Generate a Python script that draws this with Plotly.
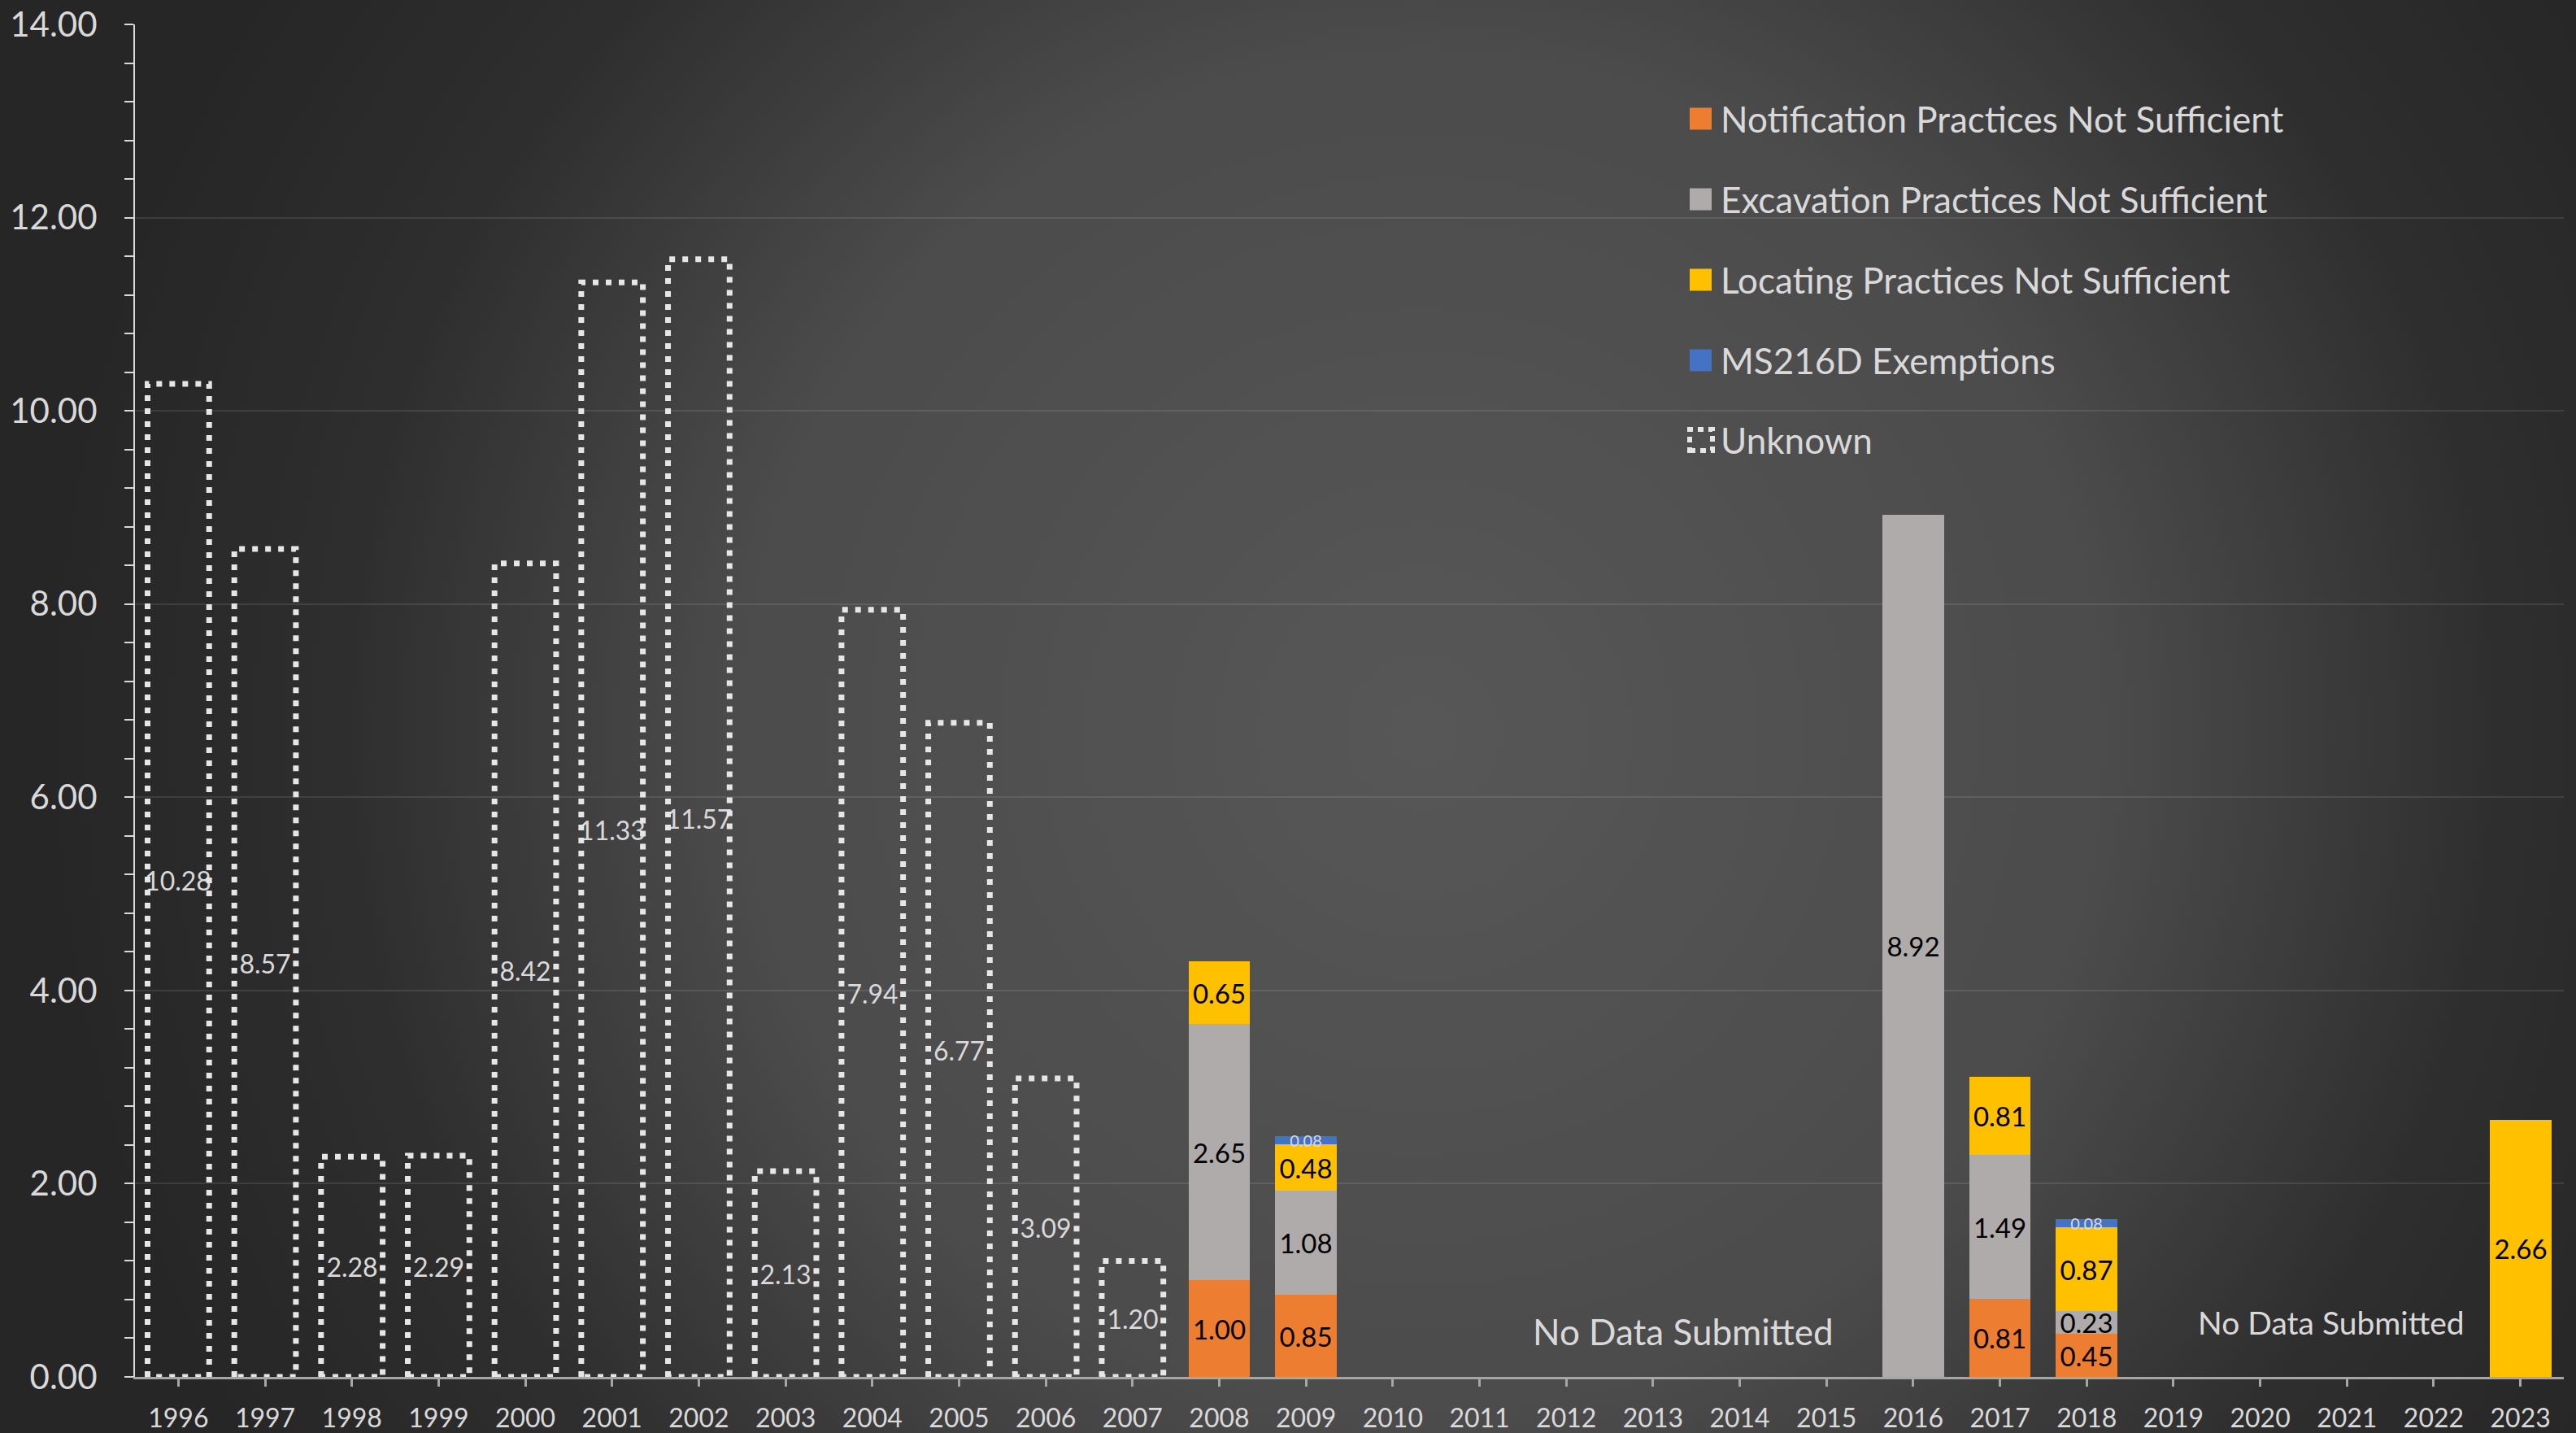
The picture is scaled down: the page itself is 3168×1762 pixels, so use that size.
import base64
import plotly.graph_objects as go

# ---------------- data ----------------
years = list(range(1996, 2024))
notification = [None]*12 + [1.00, 0.85] + [None]*6 + [None, 0.81, 0.45] + [None]*5
excavation   = [None]*12 + [2.65, 1.08] + [None]*6 + [8.92, 1.49, 0.23] + [None]*5
locating     = [None]*12 + [0.65, 0.48] + [None]*6 + [None, 0.81, 0.87] + [None]*4 + [2.66]
ms216d       = [None]*12 + [None, 0.08] + [None]*6 + [None, None, 0.08] + [None]*5
unknown      = [10.28, 8.57, 2.28, 2.29, 8.42, 11.33, 11.57, 2.13, 7.94, 6.77, 3.09, 1.20] + [None]*16
series_names = ["Notification Practices Not Sufficient", "Excavation Practices Not Sufficient",
                "Locating Practices Not Sufficient", "MS216D Exemptions", "Unknown"]
no_data_text = "No Data Submitted"

# ---------------- style ----------------
W, H = 3168, 1762
ML, MR, MT, MB = 166, 15, 30, 69
PW, PH = W - ML - MR, H - MT - MB
FONT = "Lato"
BAR_W = 0.71
colors = ["#ED7D31", "#AFABAB", "#FFC000", "#4472C4"]
LIGHT = "#d9d9d9"

fig = go.Figure()

stack = [notification, excavation, locating, ms216d]
for name, vals, col in zip(series_names[:4], stack, colors):
    is_blue = name.startswith("MS216D")
    fig.add_trace(go.Bar(
        x=years, y=vals, name=name, width=BAR_W,
        marker=dict(color=col, line=dict(width=0)),
        texttemplate="%{y:.2f}", textposition="inside", insidetextanchor="middle",
        constraintext="none", textangle=0,
        textfont=dict(family=FONT, size=20 if is_blue else 33, color=LIGHT if is_blue else "#000000"),
        showlegend=False, hoverinfo="skip"))

# Unknown: transparent bars carrying the labels
fig.add_trace(go.Bar(
    x=years, y=unknown, name=series_names[4], width=BAR_W,
    marker=dict(color="rgba(0,0,0,0)", line=dict(width=0)),
    texttemplate="%{y:.2f}", textposition="inside", insidetextanchor="middle",
    constraintext="none", textangle=0,
    textfont=dict(family=FONT, size=32, color=LIGHT),
    showlegend=False, hoverinfo="skip"))

# Unknown: dotted outlines built from the same values
ox, oy = [], []
for yr, v in zip(years, unknown):
    if v is None:
        continue
    a, b = yr - BAR_W/2, yr + BAR_W/2
    ox += [a, a, b, b, a, None]
    oy += [0, v, v, 0, 0, None]
fig.add_trace(go.Scatter(
    x=ox, y=oy, mode="lines", cliponaxis=False,
    line=dict(color="#e6e6e6", width=7, dash="7px,9px"),
    showlegend=False, hoverinfo="skip"))

# ---------------- background gradient ----------------
svg = (f"<svg xmlns='http://www.w3.org/2000/svg' width='{W}' height='{H}' viewBox='0 0 {W} {H}' "
       f"preserveAspectRatio='none'><defs><radialGradient id='g' gradientUnits='userSpaceOnUse' "
       f"cx='1750' cy='900' r='1700'><stop offset='0' stop-color='#575757'/>"
       f"<stop offset='0.5' stop-color='#4b4b4b'/><stop offset='0.78' stop-color='#2e2e2e'/>"
       f"<stop offset='1' stop-color='#262626'/></radialGradient></defs>"
       f"<rect width='{W}' height='{H}' fill='url(#g)'/></svg>")
src = "data:image/svg+xml;base64," + base64.b64encode(svg.encode()).decode()


def px(x):
    return (x - ML) / PW


def py(y):
    return (H - MB - y) / PH


images = [dict(source=src, xref="paper", yref="paper", x=px(0), y=py(0),
               sizex=W / PW, sizey=H / PH, xanchor="left", yanchor="top",
               sizing="stretch", layer="below")]

# ---------------- legend (manual) ----------------
shapes, annotations = [], []
row_y = [146, 245, 344, 443, 541]
for i, (name, yc) in enumerate(zip(series_names, row_y)):
    if i < 4:
        shapes.append(dict(type="rect", xref="paper", yref="paper",
                           x0=px(2078), x1=px(2105), y0=py(yc + 13.5), y1=py(yc - 13.5),
                           fillcolor=colors[i], line=dict(width=0)))
    else:
        shapes.append(dict(type="rect", xref="paper", yref="paper",
                           x0=px(2078), x1=px(2106), y0=py(yc + 13), y1=py(yc - 13),
                           fillcolor="rgba(0,0,0,0)", line=dict(color="#e6e6e6", width=6, dash="7px,6px")))
    annotations.append(dict(text=name, xref="paper", yref="paper", x=px(2114), y=py(yc),
                            xanchor="left", yanchor="middle", showarrow=False,
                            font=dict(family=FONT, size=44, color=LIGHT)))

annotations.append(dict(text=no_data_text, xref="x", yref="y", x=2013.35, y=0.47,
                        xanchor="center", yanchor="middle", showarrow=False,
                        font=dict(family=FONT, size=44, color=LIGHT)))
annotations.append(dict(text=no_data_text, xref="x", yref="y", x=2020.82, y=0.56,
                        xanchor="center", yanchor="middle", showarrow=False,
                        font=dict(family=FONT, size=39, color=LIGHT)))

fig.update_layout(
    width=W, height=H, barmode="stack", bargap=0, autosize=False,
    margin=dict(l=ML, r=MR, t=MT, b=MB, pad=0, autoexpand=False),
    paper_bgcolor="#262626", plot_bgcolor="rgba(0,0,0,0)",
    images=images, shapes=shapes, annotations=annotations,
    showlegend=False, font=dict(family=FONT, color=LIGHT),
    xaxis=dict(range=[1995.5, 2023.5], tickvals=years, ticktext=[str(y) for y in years],
               automargin=False,
               showgrid=False, zeroline=False, showline=True, linecolor="#a6a6a6", linewidth=3,
               ticks="outside", ticklen=9, tickwidth=3, tickcolor="#a6a6a6",
               tickfont=dict(family=FONT, size=32, color=LIGHT), ticklabelstandoff=12),
    yaxis=dict(range=[0, 14], dtick=2, tickformat=".2f", showgrid=True, automargin=False,
               gridcolor="rgba(255,255,255,0.10)", gridwidth=2, zeroline=False,
               showline=True, linecolor=LIGHT, linewidth=2,
               ticks="outside", ticklen=11, tickwidth=2, tickcolor=LIGHT,
               minor=dict(dtick=0.4, ticks="outside", ticklen=11, tickwidth=2, tickcolor=LIGHT, showgrid=False),
               tickfont=dict(family=FONT, size=42, color=LIGHT), ticklabelstandoff=25),
)

fig.write_html("out.html",
               config=dict(displayModeBar=False, responsive=False),
               post_script="document.body.style.margin='0';document.body.style.background='#262626';"
                           "document.body.style.overflow='hidden';")
